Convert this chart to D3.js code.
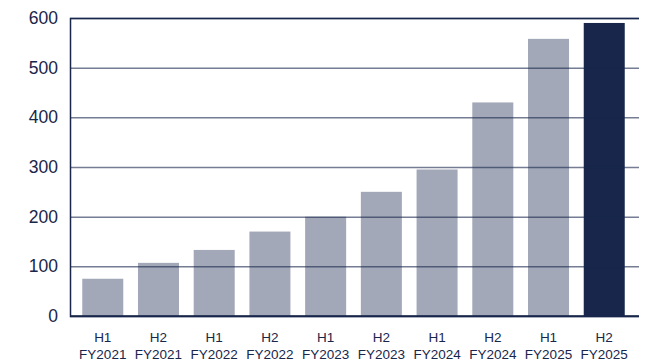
<!DOCTYPE html>
<html>
<head>
<meta charset="utf-8">
<script src="https://cdn.jsdelivr.net/npm/d3@7/dist/d3.min.js"></script>
<style>
  html, body { margin: 0; padding: 0; background: #fff; }
  svg { display: block; font-family: "Liberation Sans", Arial, sans-serif; }
</style>
</head>
<body>
<svg id="chart" width="645" height="364"></svg>
<script>
// Half-year periods and their values
const halves = ["H1", "H2", "H1", "H2", "H1", "H2", "H1", "H2", "H1", "H2"];
const years = ["FY2021", "FY2021", "FY2022", "FY2022", "FY2023", "FY2023", "FY2024", "FY2024", "FY2025", "FY2025"];
const values = [75, 107, 133, 170, 200, 250, 295, 430, 558, 590];
const yTicks = [0, 100, 200, 300, 400, 500, 600];

const svg = d3.select("#chart");
const margin = { left: 70, right: 6, top: 18, bottom: 48 };
const W = 645, H = 364;
const plotRight = W - margin.right;

const x = d3.scaleBand()
  .domain(d3.range(values.length))
  .range([margin.left, plotRight - 2])
  .paddingInner(0.264)
  .paddingOuter(0.22);

const y = d3.scaleLinear()
  .domain([0, 600])
  .range([H - margin.bottom, margin.top]);

const navy = "#18264b";
const grey = "#a2a8b8";

// Bars
svg.append("g").selectAll("rect")
  .data(values)
  .join("rect")
  .attr("x", (d, i) => x(i))
  .attr("y", d => y(d))
  .attr("width", x.bandwidth())
  .attr("height", d => y(0) - y(d))
  .attr("fill", (d, i) => i === values.length - 1 ? navy : grey);

// Horizontal gridlines drawn over the bars
const yAxis = d3.axisLeft(y)
  .tickValues(yTicks)
  .tickSize(-(plotRight - margin.left))
  .tickPadding(12)
  .tickFormat(d3.format("d"));

const gy = svg.append("g")
  .attr("transform", `translate(${margin.left},0)`)
  .call(yAxis);
gy.select(".domain").attr("stroke", navy).attr("stroke-width", 1.5);
gy.selectAll(".tick line")
  .attr("stroke", navy)
  .attr("stroke-opacity", 0.6)
  .attr("stroke-width", 1.5);
gy.selectAll(".tick text")
  .attr("fill", navy)
  .attr("font-size", 17.5);

// Bottom axis line
svg.append("line")
  .attr("x1", margin.left).attr("x2", plotRight)
  .attr("y1", y(0)).attr("y2", y(0))
  .attr("stroke", navy).attr("stroke-width", 1.5);

// Two-line category labels
const labels = svg.append("g").selectAll("text")
  .data(values)
  .join("text")
  .attr("text-anchor", "middle")
  .attr("fill", navy)
  .attr("font-size", 13.5);
labels.append("tspan")
  .attr("x", (d, i) => x(i) + x.bandwidth() / 2)
  .attr("y", 342)
  .text((d, i) => halves[i]);
labels.append("tspan")
  .attr("x", (d, i) => x(i) + x.bandwidth() / 2)
  .attr("y", 359)
  .text((d, i) => years[i]);
</script>
</body>
</html>
